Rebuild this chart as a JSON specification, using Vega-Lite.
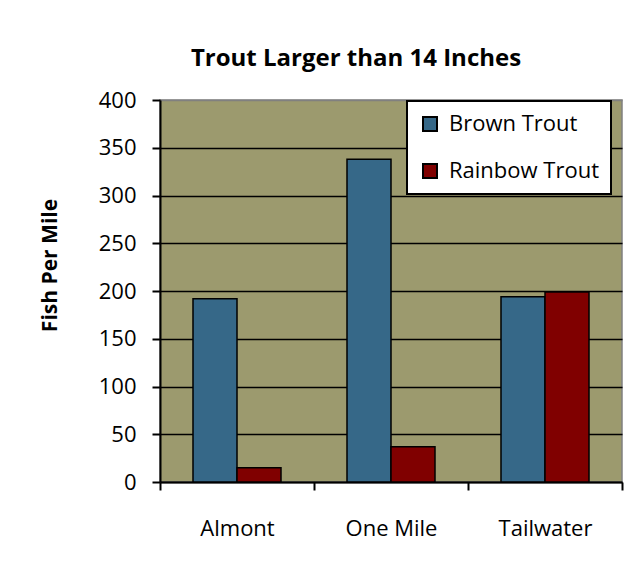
{
  "$schema": "https://vega.github.io/schema/vega-lite/v6.json",
  "width": 462,
  "height": 382,
  "autosize": {"type": "none"},
  "padding": {"left": 160, "top": 100, "right": 18, "bottom": 84},
  "background": "white",
  "title": {
    "text": "Trout Larger than 14 Inches",
    "font": "Open Sans",
    "fontWeight": "bold",
    "fontSize": 24,
    "color": "black",
    "anchor": "middle",
    "dx": -35,
    "offset": 18
  },
  "data": {
    "values": [
      {"site": "Almont", "species": "Brown Trout", "value": 192},
      {"site": "Almont", "species": "Rainbow Trout", "value": 15},
      {"site": "One Mile", "species": "Brown Trout", "value": 338},
      {"site": "One Mile", "species": "Rainbow Trout", "value": 37},
      {"site": "Tailwater", "species": "Brown Trout", "value": 194},
      {"site": "Tailwater", "species": "Rainbow Trout", "value": 199}
    ]
  },
  "mark": {"type": "bar", "stroke": "black", "strokeWidth": 1.5},
  "encoding": {
    "x": {
      "field": "site",
      "type": "nominal",
      "sort": ["Almont", "One Mile", "Tailwater"],
      "scale": {"paddingInner": 0, "paddingOuter": 0},
      "axis": {
        "title": null,
        "tickBand": "extent",
        "labelAngle": 0,
        "domainColor": "black",
        "domainWidth": 2,
        "tickColor": "black",
        "tickWidth": 2,
        "tickSize": 8,
        "labelPadding": 28,
        "labelFont": "Open Sans",
        "labelFontSize": 22,
        "labelColor": "black"
      }
    },
    "xOffset": {
      "field": "species",
      "type": "nominal",
      "scale": {"paddingInner": 0, "paddingOuter": 0.75}
    },
    "y": {
      "field": "value",
      "type": "quantitative",
      "scale": {"domain": [0, 400]},
      "axis": {
        "title": "Fish Per Mile",
        "titleFont": "Open Sans",
        "titleFontWeight": "bold",
        "titleFontSize": 21,
        "titleColor": "black",
        "titlePadding": 38,
        "titleY": 165,
        "values": [0, 50, 100, 150, 200, 250, 300, 350, 400],
        "grid": true,
        "gridColor": {"condition": {"test": "datum.value >= 400", "value": "#808080"}, "value": "black"},
        "gridWidth": 1.5,
        "domainColor": "black",
        "domainWidth": 2,
        "tickColor": "black",
        "tickWidth": 2,
        "tickSize": 8,
        "labelPadding": 16,
        "labelFont": "Open Sans",
        "labelFontSize": 22,
        "labelColor": "black"
      }
    },
    "color": {
      "field": "species",
      "type": "nominal",
      "scale": {"domain": ["Brown Trout", "Rainbow Trout"], "range": ["#366888", "#800000"]},
      "legend": {
        "title": null,
        "orient": "none",
        "legendX": 247,
        "legendY": 1,
        "fillColor": "white",
        "strokeColor": "black",
        "padding": 12,
        "symbolType": "square",
        "symbolSize": 196,
        "symbolStrokeColor": "black",
        "symbolStrokeWidth": 2,
        "symbolOpacity": 1,
        "labelFont": "Open Sans",
        "labelFontSize": 22,
        "labelColor": "black",
        "labelOffset": 8,
        "rowPadding": 25,
        "labelLimit": 300
      }
    }
  },
  "config": {
    "view": {"fill": "#9C9A6E", "stroke": "#808080", "strokeWidth": 1.5},
    "legend": {"strokeWidth": 2}
  }
}
